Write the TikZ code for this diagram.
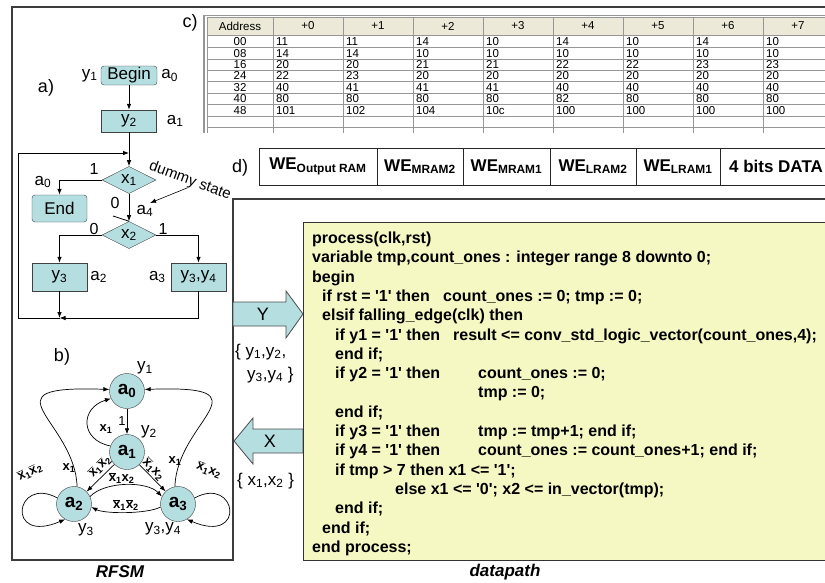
\documentclass[tikz,border=0pt]{standalone}
\usepackage{fontspec}
\setmainfont{Liberation Sans}
\newfontfamily\codefont{Liberation Sans}
\usepackage{tikz}
\usetikzlibrary{arrows.meta,positioning,shapes.geometric}

\definecolor{stfill}{RGB}{180,222,224}
\definecolor{codefill}{RGB}{246,248,196}
\definecolor{hdrfill}{RGB}{236,233,216}
\definecolor{framegray}{RGB}{60,60,60}
\definecolor{gridgray}{RGB}{150,150,150}

\newcommand{\fsz}[1]{\fontsize{#1}{#1}\selectfont}
\newcommand{\xb}{\ensuremath{\overline{\mbox{x}}}}

\tikzset{
  frame/.style    = {draw=framegray, line width=1.2pt},
  fcbox/.style    = {rectangle, draw=black!75, fill=stfill, font=\fsz{17}, inner sep=1pt,
                     minimum width=55pt, minimum height=27pt},
  fcterm/.style   = {fcbox, rounded corners=3pt},
  fcdec/.style    = {diamond, draw=black!75, fill=stfill, font=\fsz{17}, inner sep=0pt,
                     minimum width=54pt, minimum height=26pt},
  fclbl/.style    = {font=\fsz{17}, inner sep=0pt},
  fcflow/.style   = {-{Latex[length=6pt,width=4.5pt]}, draw=black, line width=0.8pt},
  fsmstate/.style = {circle, draw=black!75, fill=stfill, font=\fsz{19}\bfseries,
                     minimum size=35pt, inner sep=0pt},
  fsmflow/.style  = {-{Latex[length=6pt,width=4.5pt]}, draw=black, line width=0.7pt},
  fsmlbl/.style   = {font=\fsz{13}\bfseries, inner sep=1pt},
  tblhdr/.style   = {rectangle, draw=gridgray, fill=hdrfill, font=\fsz{11.5},
                     minimum height=18pt, inner sep=0pt},
  tblval/.style   = {anchor=west, font=\fsz{11.5}, inner sep=0pt},
  tblgrid/.style  = {draw=gridgray, line width=0.6pt},
  webox/.style    = {rectangle, draw=black!85, fill=white, font=\fsz{17}\bfseries,
                     minimum height=37pt, inner sep=0pt, outer sep=0pt, line width=0.8pt},
  blockarr/.style = {draw=black!70, fill=stfill, line width=0.8pt},
  codeln/.style   = {anchor=base west, font=\codefont\bfseries\fsz{16}, inner sep=0pt},
  title/.style    = {font=\fsz{17}\bfseries\itshape, inner sep=0pt},
}

\begin{document}
\begin{tikzpicture}[x=1pt,y=-1pt]
  \useasboundingbox (0,0) rectangle (825,582);
  \clip (0,0) rectangle (825,582);

  % c) memory table
  \node[fclbl, font=\fsz{18}] (lblc) at (190,23) {c)};
  \draw[gridgray, line width=1.5pt] (204,15) -- (204,133);
  \draw[gridgray] (204,15) -- (840,15);
  \node[tblhdr, minimum width=66pt] (hAddr) at (240,26) {Address};
  \foreach \h [count=\c from 0] in {+0,+1,+2,+3,+4,+5,+6,+7}
    \node[tblhdr, minimum width=70pt] (h\c) at (308+70*\c,26) {\h};
  \foreach \c in {0,...,8}
    \draw[tblgrid] (273+70*\c,35) -- (273+70*\c,133);
  \draw[tblgrid] (207,35) -- (207,133);
  \foreach \r in {1,...,8}
    \draw[tblgrid] (207,36+11.4*\r) -- (840,36+11.4*\r);
  \foreach \addr/\vals [count=\r from 0] in {
      00/{11,11,14,10,14,10,14,10},
      08/{14,14,10,10,10,10,10,10},
      16/{20,20,21,21,22,22,23,23},
      24/{22,23,20,20,20,20,20,20},
      32/{40,41,41,41,40,40,40,40},
      40/{80,80,80,80,82,80,80,80},
      48/{101,102,104,10c,100,100,100,100}} {
    \node[font=\fsz{11.5}, inner sep=0pt] (ad\r) at (240,41.7+11.4*\r) {\addr};
    \foreach \v [count=\c from 0] in \vals
      \node[tblval] (v\r-\c) at (276+70*\c,41.7+11.4*\r) {\v};
  }

  % d) control word
  \node[fclbl, font=\fsz{18}] (lbld) at (240,168) {d)};
  \node[webox, minimum width=118pt] (we1) at (318,166.5) {WE\textsubscript{Output RAM}};
  \node[webox, minimum width=86pt, right=0pt of we1] (we2) {WE\textsubscript{MRAM2}};
  \node[webox, minimum width=87pt, right=0pt of we2] (we3) {WE\textsubscript{MRAM1}};
  \node[webox, minimum width=86pt, right=0pt of we3] (we4) {WE\textsubscript{LRAM2}};
  \node[webox, minimum width=84pt, right=0pt of we4] (we5) {WE\textsubscript{LRAM1}};
  \node[webox, minimum width=112pt, right=0pt of we5] (we6) {4 bits DATA};

  % frames
  \draw[frame] (840,7) -- (12,7) -- (12,560) -- (233,560) -- (233,199) -- (840,199);

  % a) flowchart
  \node[fclbl, font=\fsz{18}] (lbla) at (46,88) {a)};
  \node[fcterm, minimum width=56pt, minimum height=19pt] (begin) at (129,75.5) {Begin};
  \node[fclbl, left=3pt of begin] (by1) {y\textsubscript{1}};
  \node[fclbl, right=4pt of begin] (ba0) {a\textsubscript{0}};
  \node[fcbox, minimum height=22pt] (y2) at (129,121) {y\textsubscript{2}};
  \node[fclbl, right=10pt of y2] (ba1) {a\textsubscript{1}};
  \node[fcdec] (x1) at (129,180) {x\textsubscript{1}};
  \node[fcterm] (endn) at (59.5,208.5) {End};
  \node[fcdec] (x2) at (129,235) {x\textsubscript{2}};
  \node[fcbox, minimum height=28pt] (y3) at (59.5,277) {y\textsubscript{3}};
  \node[fcbox, minimum height=28pt] (y34) at (198.5,277) {y\textsubscript{3},y\textsubscript{4}};
  \node[fclbl, right=3pt of y3] (ba2) {a\textsubscript{2}};
  \node[fclbl, left=5pt of y34] (ba3) {a\textsubscript{3}};
  \node[fclbl, font=\fsz{16}] (x1one) at (94,169) {1};
  \node[fclbl] (ea0) at (43,182) {a\textsubscript{0}};
  \node[fclbl, font=\fsz{16}] (x1zero) at (115,203) {0};
  \node[fclbl] (ba4) at (145,211) {a\textsubscript{4}};
  \node[fclbl, font=\fsz{16}] (x2zero) at (94,229) {0};
  \node[fclbl, font=\fsz{16}] (x2one) at (163,229) {1};
  \node[fclbl, font=\fsz{15}, rotate=-20] (dummy) at (190,181) {dummy state};
  \coordinate (a4pt) at (150,203);
  \coordinate (a4t) at (113,216);
  \coordinate (jn) at (59.5,318);
  \coordinate (lpb) at (18,318);
  \coordinate (lpin) at (129,153);

  \draw[fcflow] (begin) -- (y2);
  \draw[fcflow] (y2) -- (x1);
  \draw[fcflow] (x1.west) -| (endn.north);
  \draw[fcflow] (x1) -- (x2);
  \draw[fcflow] (x2.west) -| (y3.north);
  \draw[fcflow] (x2.east) -| (y34.north);
  \draw[fcflow] (y3) -- (jn);
  \draw[fcflow] (y34.south) |- (jn);
  \draw[fcflow] (jn) -- (lpb) |- (lpin);
  \draw[line width=0.8pt] (a4t) -- (x2.north);
  \draw[fcflow, line width=0.6pt] (dummy.south) -- (a4pt);

  % b) state graph
  \node[fclbl, font=\fsz{18}] (lblb) at (62,357) {b)};
  \node[fsmstate] (a0) at (127,391) {a\textsubscript{0}};
  \node[fsmstate] (a1) at (127,452) {a\textsubscript{1}};
  \node[fsmstate] (a2) at (74,504) {a\textsubscript{2}};
  \node[fsmstate] (a3) at (178,504) {a\textsubscript{3}};
  \node[fclbl] (oy1) at (145,368) {y\textsubscript{1}};
  \node[fclbl] (oy2) at (149,432) {y\textsubscript{2}};
  \node[fclbl] (oy3) at (86,530) {y\textsubscript{3}};
  \node[fclbl] (oy34) at (163,529) {y\textsubscript{3},y\textsubscript{4}};

  \draw[fsmflow] (a0) -- node[fsmlbl, font=\fsz{13}, left] {1} (a1);
  \draw[fsmflow] (a1.160) .. controls (80,440) and (80,408) .. (a0.205);
  \draw[fsmflow] (a2.80) .. controls (75,420) and (-20,385) .. (a0.175);
  \draw[fsmflow] (a3.100) .. controls (177,420) and (272,385) .. (a0.5);
  \draw[fsmflow] (a1) -- node[fsmlbl, sloped, pos=0.3, above=2pt] {\xb\textsubscript{1}\xb\textsubscript{2}} (a2);
  \draw[fsmflow] (a1) -- node[fsmlbl, sloped, pos=0.35, above=0pt] {\xb\textsubscript{1}x\textsubscript{2}} (a3);
  \draw[fsmflow] (a2.25) .. controls (105,481) and (147,481) .. node[fsmlbl, pos=0.45, above=0pt] {\xb\textsubscript{1}x\textsubscript{2}} (a3.155);
  \draw[fsmflow] (a3.190) .. controls (147,514) and (105,514) .. node[fsmlbl, above=0pt] {\xb\textsubscript{1}\xb\textsubscript{2}} (a2.350);
  \draw[fsmflow] (a2.160) .. controls (15,475) and (5,545) .. (a2.240);
  \draw[fsmflow] (a3.20) .. controls (237,475) and (247,545) .. (a3.300);
  \node[fsmlbl] (l10) at (106,429) {x\textsubscript{1}};
  \node[fsmlbl] (l20) at (69,468) {x\textsubscript{1}};
  \node[fsmlbl] (l30) at (175,461) {x\textsubscript{1}};
  \node[fsmlbl, rotate=25] (l22) at (30,472) {\xb\textsubscript{1}\xb\textsubscript{2}};
  \node[fsmlbl, rotate=-20] (l33) at (209,470) {\xb\textsubscript{1}x\textsubscript{2}};
  \node[title] (rfsm) at (120,572) {RFSM};

  % Y and X buses between RFSM and datapath
  \draw[blockarr] (233,302) -- (286,302) -- (286,291) -- (303,314) -- (286,338) -- (286,326) -- (233,326) -- cycle;
  \draw[blockarr] (303,429) -- (253,429) -- (253,418) -- (234,441) -- (253,464) -- (253,453) -- (303,453) -- cycle;
  \node[fclbl, font=\fsz{18}] (ybus) at (263,314) {Y};
  \node[fclbl, font=\fsz{18}] (xbus) at (270,441) {X};
  \node[fclbl, anchor=west] (yset1) at (235,352) {\{ y\textsubscript{1},y\textsubscript{2},};
  \node[fclbl, anchor=west] (yset2) at (247,375) {y\textsubscript{3},y\textsubscript{4} \}};
  \node[fclbl, anchor=west] (xset) at (237,481) {\{ x\textsubscript{1},x\textsubscript{2} \}};

  % datapath code
  \draw[draw=black!80, fill=codefill, line width=0.9pt] (303,222) rectangle (840,560);
  \node[codeln] (c1)  at (312,243.5) {process(clk,rst)};
  \node[codeln] (c2)  at (312,262.8) {variable tmp,count\_ones : integer range 8 downto 0;};
  \node[codeln] (c3)  at (312,282.1) {begin};
  \node[codeln] (c4)  at (322,301.4) {if rst = '1' then};
  \node[codeln] (c4b) at (443,301.4) {count\_ones := 0; tmp := 0;};
  \node[codeln] (c5)  at (322,320.7) {elsif falling\_edge(clk) then};
  \node[codeln] (c6)  at (335,340.0) {if y1 = '1' then};
  \node[codeln] (c6b) at (453,340.0) {result <= conv\_std\_logic\_vector(count\_ones,4);};
  \node[codeln] (c7)  at (335,359.3) {end if;};
  \node[codeln] (c8)  at (335,378.6) {if y2 = '1' then};
  \node[codeln] (c8b) at (478,378.6) {count\_ones := 0;};
  \node[codeln] (c9)  at (478,397.9) {tmp := 0;};
  \node[codeln] (c10) at (335,417.2) {end if;};
  \node[codeln] (c11) at (335,436.5) {if y3 = '1' then};
  \node[codeln] (c11b) at (478,436.5) {tmp := tmp+1; end if;};
  \node[codeln] (c12) at (335,455.8) {if y4 = '1' then};
  \node[codeln] (c12b) at (478,455.8) {count\_ones := count\_ones+1; end if;};
  \node[codeln] (c13) at (335,475.1) {if tmp > 7 then x1 <= '1';};
  \node[codeln] (c14) at (395,494.4) {else x1 <= '0'; x2 <= in\_vector(tmp);};
  \node[codeln] (c15) at (335,513.7) {end if;};
  \node[codeln] (c16) at (322,533.0) {end if;};
  \node[codeln] (c17) at (312,552.3) {end process;};
  \node[title] (dpath) at (505,572) {datapath};
\end{tikzpicture}
\end{document}
